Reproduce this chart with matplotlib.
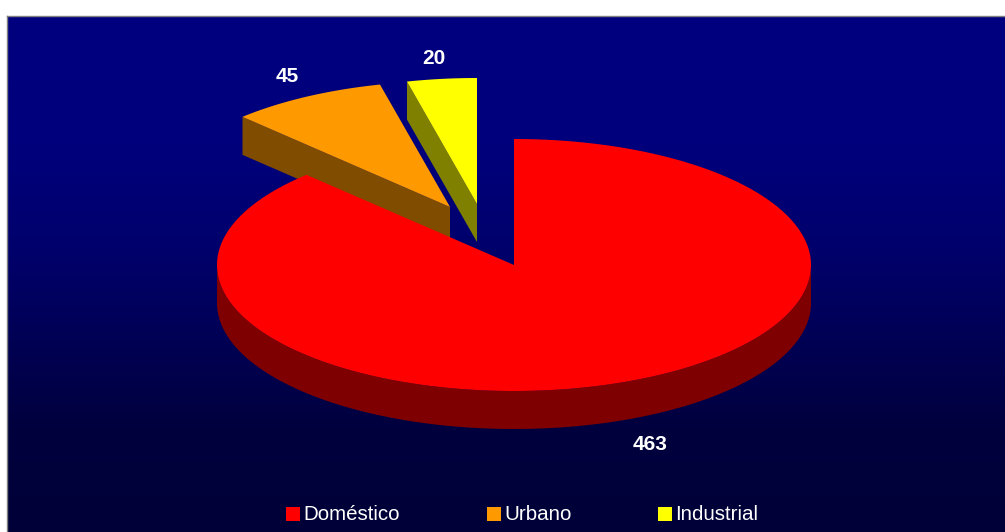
import numpy as np
import matplotlib
matplotlib.use("Agg")
import matplotlib.pyplot as plt
from matplotlib.patches import Polygon, Rectangle

plt.rcParams['font.family'] = ['Liberation Sans', 'DejaVu Sans']

categories = ['Doméstico', 'Urbano', 'Industrial']
values = [463, 45, 20]
top_colors = ['#ff0000', '#ff9900', '#ffff00']
side_colors = ['#7f0000', '#804d00', '#808000']

W, H = 1005, 532
cx, cy = 514, 265      # pie centre in pixels
rx, ry = 297, 126      # ellipse radii
depth = 38             # thickness of the pie
explode = [(0, 0), (-64, -58), (-37, -61)]
label_pos = [(650, 444), (287, 76), (434, 58)]
legend_x = [286, 487, 658]


def rim(a0, a1, x0, y0):
    '''Points on the ellipse, angles clockwise from the top in degrees.'''
    th = np.radians(np.linspace(a0, a1, max(int(a1 - a0) * 2, 2) + 1))
    return np.column_stack([x0 + rx * np.sin(th), y0 - ry * np.cos(th)])


fig = plt.figure(figsize=(W / 100, H / 100), dpi=100)
ax = fig.add_axes([0, 0, 1, 1])
ax.set_xlim(0, W)
ax.set_ylim(H, 0)
ax.axis('off')

# background gradient, navy staying flat at the top then fading out
grad = np.zeros((256, 1, 3))
grad[:, 0, 2] = np.interp(np.linspace(0, 1, 256),
                          [0, 0.25, 0.45, 0.6, 0.8, 1],
                          [128, 124, 108, 88, 62, 56]) / 255
ax.imshow(grad, extent=[7, W, H, 16], aspect='auto', zorder=0)
ax.plot([7, 7], [H, 16], color='#808080', lw=1, zorder=1)
ax.plot([7, W], [16, 16], color='#808080', lw=1, zorder=1)
ax.set_xlim(0, W)
ax.set_ylim(H, 0)

sweeps = 360 * np.array(values) / sum(values)
ends = np.cumsum(sweeps)
starts = ends - sweeps

# back slices first, the big red one covers their side walls
for i in [2, 1, 0]:
    x0 = cx + explode[i][0]
    y0 = cy + explode[i][1]
    pts = rim(starts[i], ends[i], x0, y0)
    if i == 0:
        # outer wall, only the part of the rim facing the viewer
        front = rim(90, 270, x0, y0)
        wall = np.vstack([front, front[::-1] + [0, depth]])
    else:
        # cut face running from the outer rim to the apex
        wall = np.array([pts[0], [x0, y0], [x0, y0 + depth], pts[0] + [0, depth]])
    ax.add_patch(Polygon(wall, closed=True, fc=side_colors[i], ec='none', zorder=2 + (2 - i)))
    top = np.vstack([[x0, y0], pts])
    ax.add_patch(Polygon(top, closed=True, fc=top_colors[i], ec='none', zorder=2 + (2 - i)))

    ax.text(label_pos[i][0], label_pos[i][1], str(values[i]), color='white', fontsize=15,
            fontweight='bold', ha='center', va='center', zorder=10)

# legend
for i in range(3):
    ax.add_patch(Rectangle((legend_x[i], 507), 14, 14, fc=top_colors[i], ec='none', zorder=10))
    ax.text(legend_x[i] + 17.5, 514.5, categories[i], color='white', fontsize=14.8,
            ha='left', va='center', zorder=10)

fig.savefig('out.png', dpi=100, facecolor='white')
